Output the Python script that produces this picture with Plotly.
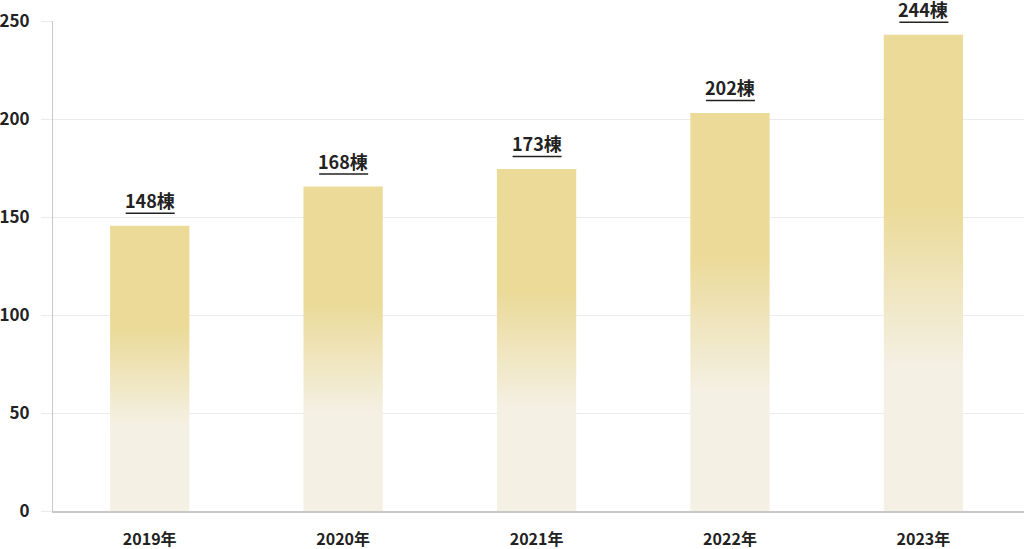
import plotly.graph_objects as go

years = ["2019年", "2020年", "2021年", "2022年", "2023年"]
bar_values = [145.5, 165.5, 174.5, 203, 243]
label_texts = ["148棟", "168棟", "173棟", "202棟", "244棟"]
y_ticks = [0, 50, 100, 150, 200, 250]

CREAM = "#f4f0e4"
GOLD = "#ebda98"
FONT = "Noto Sans CJK JP"
BAR_W = 0.41

fig = go.Figure()
for i, v in enumerate(bar_values):
    x0, x1 = i - BAR_W / 2, i + BAR_W / 2
    fig.add_trace(go.Scatter(
        x=[x0, x1, x1, x0, x0],
        y=[0, 0, v, v, 0],
        mode="lines",
        line=dict(width=0),
        fill="toself",
        fillgradient=dict(
            type="vertical",
            colorscale=[[0, CREAM], [0.3, CREAM], [0.64, GOLD], [1, GOLD]],
            start=0,
            stop=v,
        ),
        hoverinfo="skip",
        showlegend=False,
    ))
    fig.add_annotation(
        x=i, y=v, text=label_texts[i], showarrow=False,
        xanchor="center", yanchor="middle", yshift=26,
        font=dict(family=FONT, size=18, color="#222222", weight=700),
    )
    fig.add_shape(
        type="line", xref="x", yref="y",
        xsizemode="pixel", ysizemode="pixel",
        xanchor=i, yanchor=v,
        x0=-24, x1=25, y0=12.5, y1=12.5,
        line=dict(color="#222222", width=1.5),
    )

fig.update_layout(
    width=1024, height=549,
    margin=dict(l=53, r=0, t=21, b=38, autoexpand=False),
    paper_bgcolor="white", plot_bgcolor="white",
    font=dict(family=FONT, color="#222222"),
    xaxis=dict(
        range=[-0.5, 4.52],
        tickmode="array", tickvals=list(range(len(years))), ticktext=years,
        showgrid=False, zeroline=False, automargin=False,
        showline=True, linecolor="#c8c8c8", linewidth=1.5,
        ticks="", ticklabelstandoff=13,
        tickfont=dict(family=FONT, size=16, color="#222222", weight=700),
        fixedrange=True,
    ),
    yaxis=dict(
        range=[0, 250], automargin=False,
        tickmode="array", tickvals=y_ticks,
        showgrid=True, gridcolor="#ebebeb", gridwidth=1,
        zeroline=False,
        showline=True, linecolor="#c8c8c8", linewidth=1,
        ticks="outside", ticklen=11, tickcolor="#ebebeb",
        ticklabelstandoff=8,
        tickfont=dict(family=FONT, size=17, color="#222222", weight=700),
        fixedrange=True,
    ),
)

fig.write_html(
    "out.html",
    config={"displayModeBar": False},
    post_script="document.body.style.margin='0px';document.body.style.overflow='hidden';",
)
